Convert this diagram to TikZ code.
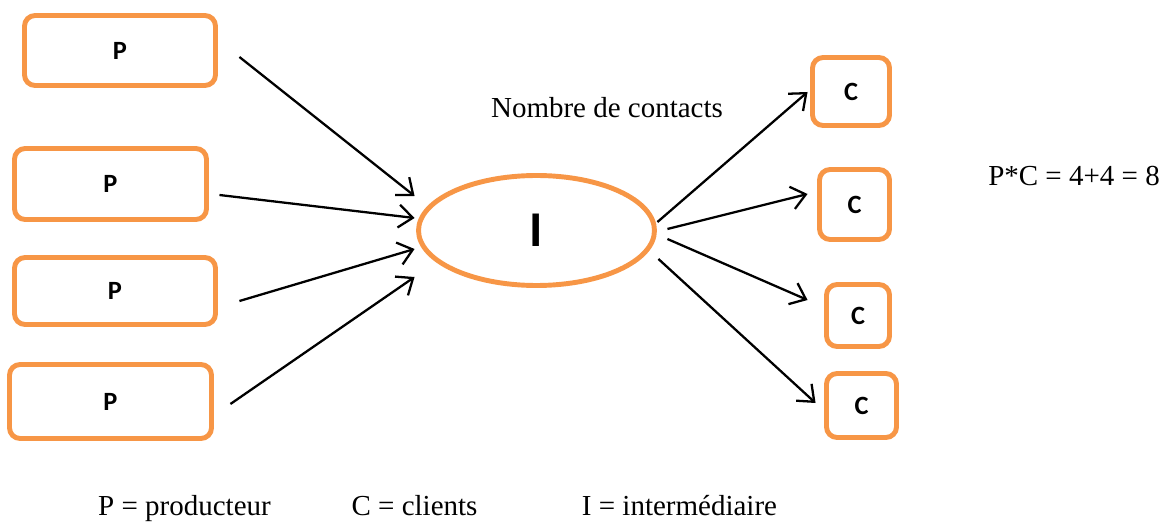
\documentclass[tikz,border=0pt]{standalone}
\usepackage{fontspec}
\setmainfont{Liberation Serif}
\newfontfamily\boxfont{Carlito}
\usetikzlibrary{positioning, arrows.meta, shapes.geometric}

\begin{document}
\begin{tikzpicture}[x=0.02cm, y=-0.02cm,
    pbox/.style={rectangle, rounded corners=6pt, draw=boxorange,
                 line width=2.8pt, fill=white,
                 font=\boxfont\bfseries\fontsize{15}{18}\selectfont},
    cbox/.style={pbox},
    mid/.style={ellipse, draw=boxorange, line width=2.8pt, inner sep=0pt,
                minimum width=4.72cm, minimum height=2.2cm,
                font=\boxfont\bfseries\fontsize{28.5}{32}\selectfont},
    legend/.style={font=\fontsize{16.5}{20}\selectfont, inner sep=0pt},
    arrow/.style={line width=1.3pt, black,
                  -{Straight Barb[length=8pt, width=13pt]}}
]
% Orange der Office-Palette, Pfeile schwarz mit offener Spitze.
\definecolor{boxorange}{HTML}{F79646}
\useasboundingbox (0,0) rectangle (1168,523);

% producteurs
\node[pbox, minimum width=3.82cm, minimum height=1.40cm] (p1) at (120,50.5) {P};
\node[pbox, minimum width=3.84cm, minimum height=1.42cm] (p2) at (110.5,184) {P};
\node[pbox, minimum width=4.02cm, minimum height=1.34cm] (p3) at (115,291) {P};
\node[pbox, minimum width=4.04cm, minimum height=1.48cm] (p4) at (110.5,401.5) {P};

% intermediaire
\node[mid] (i) at (536.5,230.5) {\raisebox{-3pt}{I}};

% clients
\node[cbox, minimum width=1.54cm, minimum height=1.36cm] (c1) at (851,91.5) {C};
\node[cbox, minimum width=1.40cm, minimum height=1.40cm] (c2) at (854.5,204.5) {C};
\node[cbox, minimum width=1.26cm, minimum height=1.24cm] (c3) at (858,315.5) {C};
\node[cbox, minimum width=1.40cm, minimum height=1.28cm] (c4) at (861.5,405.5) {C};

\node[legend] (contacts) at (607,108) {Nombre de contacts};
\node[legend] (total) at (1074,176) {P*C = 4+4 = 8};
\node[legend, anchor=base] (lp) at (184.5,515) {P = producteur};
\node[legend, anchor=base] (lc) at (414.5,515) {C = clients};
\node[legend, anchor=base] (li) at (679.5,515) {I = intermédiaire};

\draw[arrow] ([shift={(21.5,6.5)}]p1.east) -- ([shift={(-1.5,-34.5)}]i.west);
\draw[arrow] ([shift={(10.5,11)}]p2.east) -- ([shift={(-1.5,-12.5)}]i.west);
\draw[arrow] ([shift={(21.5,10)}]p3.east) -- ([shift={(-1.5,18.5)}]i.west);
\draw[arrow] ([shift={(16.5,2.5)}]p4.east) -- ([shift={(-1.5,46.5)}]i.west);

\draw[arrow] ([shift={(0.5,-8.5)}]i.east) -- ([shift={(-2.5,0.5)}]c1.west);
\draw[arrow] ([shift={(10.5,-1.5)}]i.east) -- ([shift={(-9.5,-10.5)}]c2.west);
\draw[arrow] ([shift={(10.5,8.5)}]i.east) -- ([shift={(-16.5,-15.5)}]c3.west);
\draw[arrow] ([shift={(1.5,28.5)}]i.east) -- ([shift={(-8.5,-2.5)}]c4.west);
\end{tikzpicture}
\end{document}
